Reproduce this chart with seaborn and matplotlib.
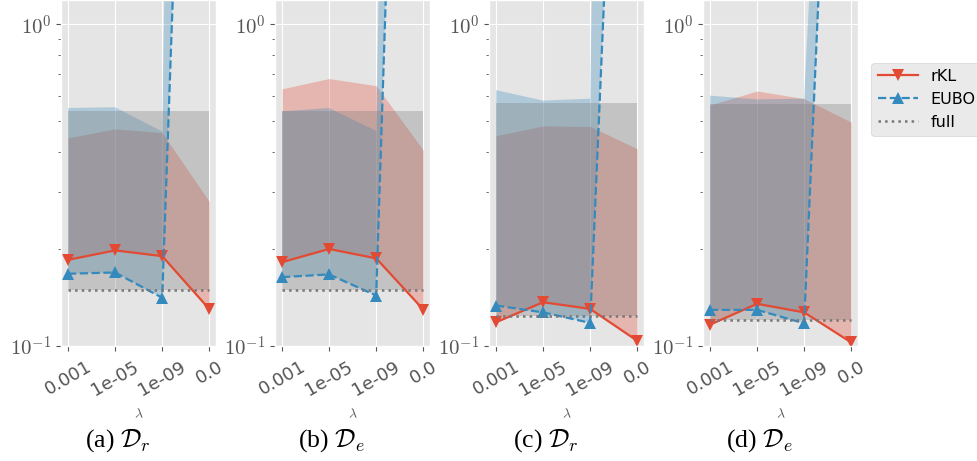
import matplotlib
matplotlib.use("Agg")
import matplotlib.pyplot as plt
import seaborn as sns
import numpy as np
from matplotlib.ticker import NullFormatter, FuncFormatter

plt.style.use("ggplot")
plt.rcParams["mathtext.fontset"] = "cm"

# --------------------------------------------------
# Data
# --------------------------------------------------

lams = ["0.001", "1e-05", "1e-09", "0.0"]

rkl_a = [0.185, 0.198, 0.190, 0.130]
rkl_a_hi = [0.443, 0.473, 0.460, 0.281]
eubo_a = [0.1675, 0.169, 0.141, 2000]
eubo_a_hi = [0.549, 0.552, 0.464, 1e9]
full_a = [0.149] * 4
full_a_hi = [0.538] * 4

rkl_b = [0.182, 0.200, 0.187, 0.1296]
rkl_b_hi = [0.630, 0.678, 0.644, 0.406]
eubo_b = [0.1635, 0.1667, 0.1433, 5000]
eubo_b_hi = [0.536, 0.549, 0.466, 1e8]
full_b = [0.149] * 4
full_b_hi = [0.538] * 4

rkl_c = [0.1183, 0.1366, 0.1302, 0.1036]
rkl_c_hi = [0.450, 0.483, 0.481, 0.410]
eubo_c = [0.1334, 0.127, 0.1178, 300]
eubo_c_hi = [0.624, 0.579, 0.587, 1e9]
full_c = [0.1235] * 4
full_c_hi = [0.570] * 4

rkl_d = [0.1163, 0.135, 0.127, 0.1024]
rkl_d_hi = [0.561, 0.620, 0.587, 0.496]
eubo_d = [0.1293, 0.1293, 0.1174, 250]
eubo_d_hi = [0.600, 0.584, 0.587, 500]
full_d = [0.1203] * 4
full_d_hi = [0.565] * 4

captions = [r"(a) $\mathcal{D}_r$", r"(b) $\mathcal{D}_e$",
            r"(c) $\mathcal{D}_r$", r"(d) $\mathcal{D}_e$"]

panels = [
    (rkl_a, rkl_a_hi, eubo_a, eubo_a_hi, full_a, full_a_hi),
    (rkl_b, rkl_b_hi, eubo_b, eubo_b_hi, full_b, full_b_hi),
    (rkl_c, rkl_c_hi, eubo_c, eubo_c_hi, full_c, full_c_hi),
    (rkl_d, rkl_d_hi, eubo_d, eubo_d_hi, full_d, full_d_hi),
]

RED = "#E24A33"
BLUE = "#348ABD"
GRAY = "#777777"


def decade_label(v, pos):
    return r"$10^{%d}$" % int(round(np.log10(v)))


# --------------------------------------------------
# Plot
# --------------------------------------------------

fig, axes = plt.subplots(1, 4, figsize=(9.77, 4.61), dpi=100)
fig.subplots_adjust(left=0.0624, right=0.8785, bottom=0.25, top=1.0, wspace=0.377)

for ax, (rkl, rkl_hi, eubo, eubo_hi, full, full_hi), cap in zip(axes, panels, captions):
    sns.lineplot(x=lams, y=rkl, ax=ax, sort=False, color=RED, lw=1.6,
                 marker="v", markersize=9, markeredgecolor=RED, mew=0, label="rKL")
    sns.lineplot(x=lams, y=eubo, ax=ax, sort=False, color=BLUE, lw=1.6, linestyle="--",
                 marker="^", markersize=9, markeredgecolor=BLUE, mew=0, label="EUBO")
    sns.lineplot(x=lams, y=full, ax=ax, sort=False, color=GRAY, lw=1.8, linestyle=":",
                 label="full")

    ax.fill_between(lams, rkl, rkl_hi, color=RED, alpha=0.3, lw=0)
    ax.fill_between(lams, eubo, eubo_hi, color=BLUE, alpha=0.3, lw=0)
    ax.fill_between(lams, full, full_hi, color=GRAY, alpha=0.3, lw=0)

    ax.set_yscale("log")
    ax.set_ylim(0.1, 1.19)
    ax.set_xlim(-0.15, 3.15)
    ax.yaxis.set_major_formatter(FuncFormatter(decade_label))
    ax.yaxis.set_minor_formatter(NullFormatter())
    ax.tick_params(axis="x", labelsize=13, labelrotation=30, pad=5)
    ax.tick_params(axis="y", labelsize=15)
    ax.set_xlabel(r"$\lambda$", fontsize=10, labelpad=6)
    ax.set_ylabel("")
    ax.get_legend().remove()

    pos = ax.get_position()
    fig.text((pos.x0 + pos.x1) / 2 - 0.0215, 0.045, cap, ha="center", va="center",
             fontsize=18.5, family="Liberation Serif", color="black")

handles, labels = axes[0].get_legend_handles_labels()
fig.legend(handles, labels, loc="upper left", bbox_to_anchor=(0.892, 0.864),
           fontsize=11.5, handlelength=2.5, borderaxespad=0)

plt.savefig("out.png", dpi=100)
plt.close()
